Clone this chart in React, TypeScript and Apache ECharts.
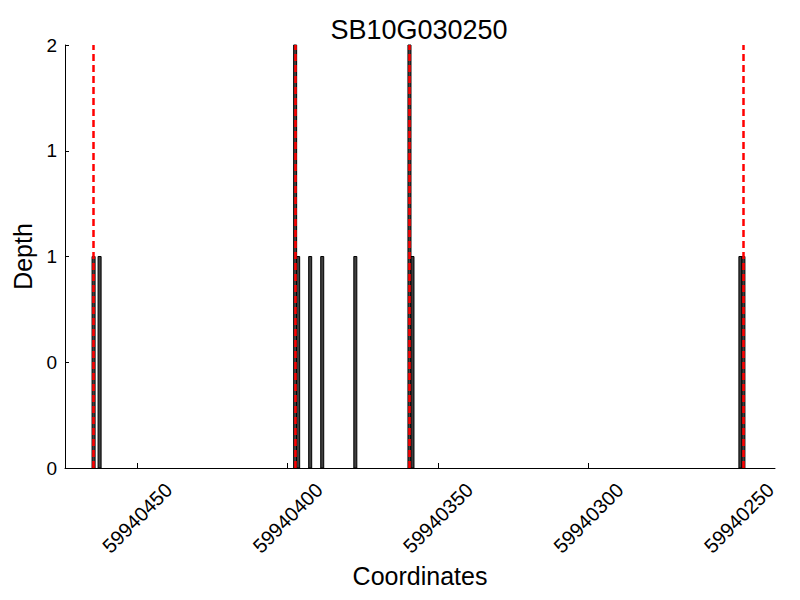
import React, { useEffect, useRef } from "react";
import * as echarts from "echarts";

const TITLE = "SB10G030250";
// bin start coordinates (each bar covers [start, start + 1])
const binStarts = [
  59940464, 59940462, 59940397, 59940396, 59940392, 59940388, 59940377,
  59940359, 59940358, 59940249, 59940248,
];
const depths = [1, 1, 2, 1, 1, 1, 1, 2, 1, 1, 1];
const markerPositions = [59940464.5, 59940397.5, 59940359.5, 59940248.5];
const xTicks = [59940250, 59940300, 59940350, 59940400, 59940450];
const xMin = 59940238;
const xMax = 59940474;
const yTicksMax = 2;

const FONT = "Liberation Sans, Arial, Helvetica, sans-serif";

export default function App() {
  const ref = useRef<HTMLDivElement>(null);
  useEffect(() => {
    if (!ref.current) return;
    const chart = echarts.init(ref.current, undefined, { renderer: "svg" });
    const data = binStarts.map((s, i) => [s, depths[i]]);
    chart.setOption({
      animation: false,
      backgroundColor: "#ffffff",
      textStyle: { fontFamily: FONT },
      grid: {
        left: 65,
        right: 25,
        top: 45,
        bottom: 132,
        containLabel: false,
        outerBoundsMode: "none",
      },
      graphic: [
        {
          type: "text",
          x: 419,
          y: 30,
          style: {
            text: TITLE,
            fontSize: 27,
            fontFamily: FONT,
            fill: "#000",
            align: "center",
            verticalAlign: "middle",
          },
        },
      ],
      xAxis: {
        type: "value",
        inverse: true,
        min: xMin,
        max: xMax,
        name: "Coordinates",
        nameLocation: "middle",
        nameGap: 79,
        nameTextStyle: { fontSize: 25, color: "#000", fontFamily: FONT },
        axisLine: { show: true, lineStyle: { color: "#000", width: 1 } },
        axisTick: {
          show: true,
          inside: true,
          length: 5,
          customValues: xTicks,
          lineStyle: { color: "#000" },
        },
        axisLabel: {
          customValues: xTicks,
          rotate: 45,
          fontSize: 20,
          color: "#000",
          fontFamily: FONT,
          align: "center",
          verticalAlign: "middle",
          margin: 50,
          formatter: (v: number) => String(Math.round(v)),
        },
        splitLine: { show: false },
      },
      yAxis: {
        type: "value",
        min: 0,
        max: yTicksMax,
        interval: 0.5,
        name: "Depth",
        nameLocation: "middle",
        nameGap: 26,
        nameTextStyle: { fontSize: 25, color: "#000", fontFamily: FONT },
        axisLine: { show: true, lineStyle: { color: "#000", width: 1 } },
        axisTick: { show: true, inside: true, length: 4, lineStyle: { color: "#000" } },
        axisLabel: {
          fontSize: 19,
          color: "#000",
          fontFamily: FONT,
          margin: 8,
          formatter: (v: number) => String(Math.floor(v)),
        },
        splitLine: { show: false },
      },
      series: [
        {
          type: "custom",
          data,
          encode: { x: 0, y: 1 },
          z: 2,
          renderItem: (params: any, api: any) => {
            const s = api.value(0);
            const d = api.value(1);
            const pTop = api.coord([s + 1, d]);
            const pBot = api.coord([s, 0]);
            const x = Math.min(pTop[0], pBot[0]);
            const w = Math.abs(pTop[0] - pBot[0]);
            return {
              type: "rect",
              shape: { x, y: pTop[1], width: w, height: pBot[1] - pTop[1] },
              style: { fill: "#404040", stroke: "#000", lineWidth: 1 },
            };
          },
        },
        {
          type: "line",
          data: [],
          z: 5,
          markLine: {
            silent: true,
            symbol: ["none", "none"],
            label: { show: false },
            lineStyle: { color: "#ff0000", width: 2.5, type: [7, 4] },
            data: markerPositions.map((p) => ({ xAxis: p })),
          },
        },
      ],
    });
    return () => chart.dispose();
  }, []);
  return <div ref={ref} style={{ width: 800, height: 600, margin: -8 }} />;
}
